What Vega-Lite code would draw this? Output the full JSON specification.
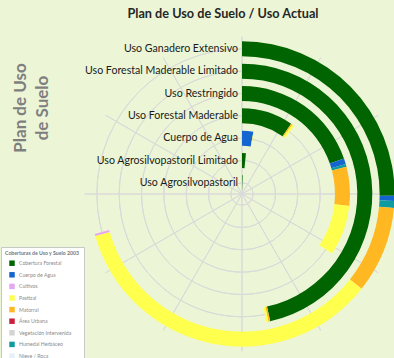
{
  "$schema": "https://vega.github.io/schema/vega-lite/v6.json",
  "autosize": {"type": "pad"},
  "padding": {"left": 0, "top": 7, "right": 0, "bottom": 0},
  "background": "#ecf6d6",
  "bounds": "flush",
  "title": {
    "text": "Plan de Uso de Suelo / Uso Actual",
    "anchor": "middle",
    "dx": 22,
    "offset": 14,
    "font": "Lato",
    "fontSize": 12.7,
    "fontWeight": "bold",
    "color": "#262626"
  },
  "datasets": {
    "usos": [
      {"uso": "Uso Ganadero Extensivo", "anillo": 7},
      {"uso": "Uso Forestal Maderable Limitado", "anillo": 6},
      {"uso": "Uso Restringido", "anillo": 5},
      {"uso": "Uso Forestal Maderable", "anillo": 4},
      {"uso": "Cuerpo de Agua", "anillo": 3},
      {"uso": "Uso Agrosilvopastoril Limitado", "anillo": 2},
      {"uso": "Uso Agrosilvopastoril", "anillo": 1}
    ],
    "radios": [
      {"angulo": 0}, {"angulo": 30}, {"angulo": 60}, {"angulo": 90},
      {"angulo": 120}, {"angulo": 150}, {"angulo": 180}, {"angulo": 210},
      {"angulo": 240}, {"angulo": 270}, {"angulo": 300}, {"angulo": 330}
    ],
    "valores": [
      {"uso": "Uso Ganadero Extensivo", "cobertura": "Cobertura Forestal", "valor": 90.7},
      {"uso": "Uso Ganadero Extensivo", "cobertura": "Cuerpo de Agua", "valor": 1.9},
      {"uso": "Uso Ganadero Extensivo", "cobertura": "Humedal Herbáceo", "valor": 2.7},
      {"uso": "Uso Ganadero Extensivo", "cobertura": "Matorral", "valor": 33.1},
      {"uso": "Uso Ganadero Extensivo", "cobertura": "Pastizal", "valor": 125.6},
      {"uso": "Uso Ganadero Extensivo", "cobertura": "Cultivos", "valor": 0.8},
      {"uso": "Uso Forestal Maderable Limitado", "cobertura": "Cobertura Forestal", "valor": 167.5},
      {"uso": "Uso Forestal Maderable Limitado", "cobertura": "Matorral", "valor": 0.8},
      {"uso": "Uso Forestal Maderable Limitado", "cobertura": "Pastizal", "valor": 1.0},
      {"uso": "Uso Restringido", "cobertura": "Cobertura Forestal", "valor": 70.8},
      {"uso": "Uso Restringido", "cobertura": "Cuerpo de Agua", "valor": 3.1},
      {"uso": "Uso Restringido", "cobertura": "Humedal Herbáceo", "valor": 1.5},
      {"uso": "Uso Restringido", "cobertura": "Matorral", "valor": 21.0},
      {"uso": "Uso Restringido", "cobertura": "Pastizal", "valor": 27.1},
      {"uso": "Uso Forestal Maderable", "cobertura": "Cobertura Forestal", "valor": 35.0},
      {"uso": "Uso Forestal Maderable", "cobertura": "Matorral", "valor": 1.0},
      {"uso": "Uso Forestal Maderable", "cobertura": "Pastizal", "valor": 1.5},
      {"uso": "Cuerpo de Agua", "cobertura": "Cuerpo de Agua", "valor": 10.4},
      {"uso": "Cuerpo de Agua", "cobertura": "Pastizal", "valor": 0.6},
      {"uso": "Uso Agrosilvopastoril Limitado", "cobertura": "Cobertura Forestal", "valor": 5.5},
      {"uso": "Uso Agrosilvopastoril", "cobertura": "Cobertura Forestal", "valor": 2.0}
    ]
  },
  "vconcat": [
    {
      "width": 300,
      "height": 300,
      "title": {
        "text": ["Plan de Uso", "de Suelo"],
        "orient": "left",
        "anchor": "middle",
        "offset": 31,
        "dx": 86,
        "font": "Lato",
        "fontSize": 17,
        "fontWeight": "bold",
        "lineHeight": 22,
        "color": "#7f7f7f"
      },
      "layer": [
        {
          "data": {"name": "usos"},
          "mark": {"type": "arc", "filled": false, "stroke": "#dadada", "strokeWidth": 1},
          "encoding": {
            "theta": {"datum": 0, "type": "quantitative", "scale": {"type": "linear", "domain": [0, 360], "range": [0, 6.283185307179586], "zero": false}},
            "theta2": {"datum": 360},
            "radius": {"field": "anillo", "type": "quantitative", "scale": {"type": "linear", "domain": [0.5, 7.5], "range": [0, 156.3], "zero": false}},
            "radius2": {"field": "anillo"}
          }
        },
        {
          "data": {"name": "radios"},
          "mark": {"type": "arc", "filled": false, "stroke": "#dadada", "strokeWidth": 1},
          "encoding": {
            "theta": {"field": "angulo", "type": "quantitative"},
            "theta2": {"field": "angulo"},
            "radius": {"datum": 7.55, "type": "quantitative"}
          }
        },
        {
          "data": {"name": "valores"},
          "transform": [
            {"lookup": "uso", "from": {"data": {"name": "usos"}, "key": "uso", "fields": ["anillo"]}},
            {"stack": "valor", "groupby": ["uso"], "as": ["v0", "v1"]}
          ],
          "mark": {"type": "arc", "radiusOffset": 7.5, "radius2Offset": -7.5, "strokeWidth": 0},
          "encoding": {
            "theta": {"field": "v0", "type": "quantitative"},
            "theta2": {"field": "v1"},
            "radius": {"field": "anillo", "type": "quantitative"},
            "radius2": {"field": "anillo"},
            "color": {
              "field": "cobertura",
              "type": "nominal",
              "scale": {
                "domain": ["Cobertura Forestal", "Cuerpo de Agua", "Cultivos", "Pastizal", "Matorral", "Área Urbana", "Vegetación Intervenida", "Humedal Herbáceo", "Nieve / Roca"],
                "range": ["#006400", "#1565d0", "#e6a6f0", "#ffff4d", "#ffb822", "#c8203a", "#d4d4d4", "#0f9ba0", "#e6f2fb"]
              },
              "legend": {
                "title": "Coberturas de Uso y Suelo 2003",
                "orient": "none",
                "legendX": -91,
                "legendY": 203,
                "fillColor": "#ffffff",
                "strokeColor": "#c8c8c8",
                "padding": 4,
                "titleFont": "Lato",
                "titleFontSize": 5.2,
                "titleColor": "#777777",
                "titlePadding": 4,
                "labelFont": "Lato",
                "labelFontSize": 5.2,
                "labelColor": "#8a8a8a",
                "symbolType": "square",
                "symbolSize": 30,
                "symbolStrokeWidth": 0,
                "symbolOffset": 4,
                "labelOffset": 4,
                "rowPadding": 4.6
              }
            }
          }
        },
        {
          "data": {"name": "usos"},
          "mark": {"type": "text", "align": "right", "baseline": "middle", "dx": -4, "font": "Lato", "fontSize": 10.6, "color": "#1a1a1a"},
          "encoding": {
            "theta": {"datum": 0, "type": "quantitative"},
            "radius": {"field": "anillo", "type": "quantitative"},
            "text": {"field": "uso", "type": "nominal"}
          }
        }
      ]
    }
  ],
  "config": {"view": {"stroke": null}}
}
